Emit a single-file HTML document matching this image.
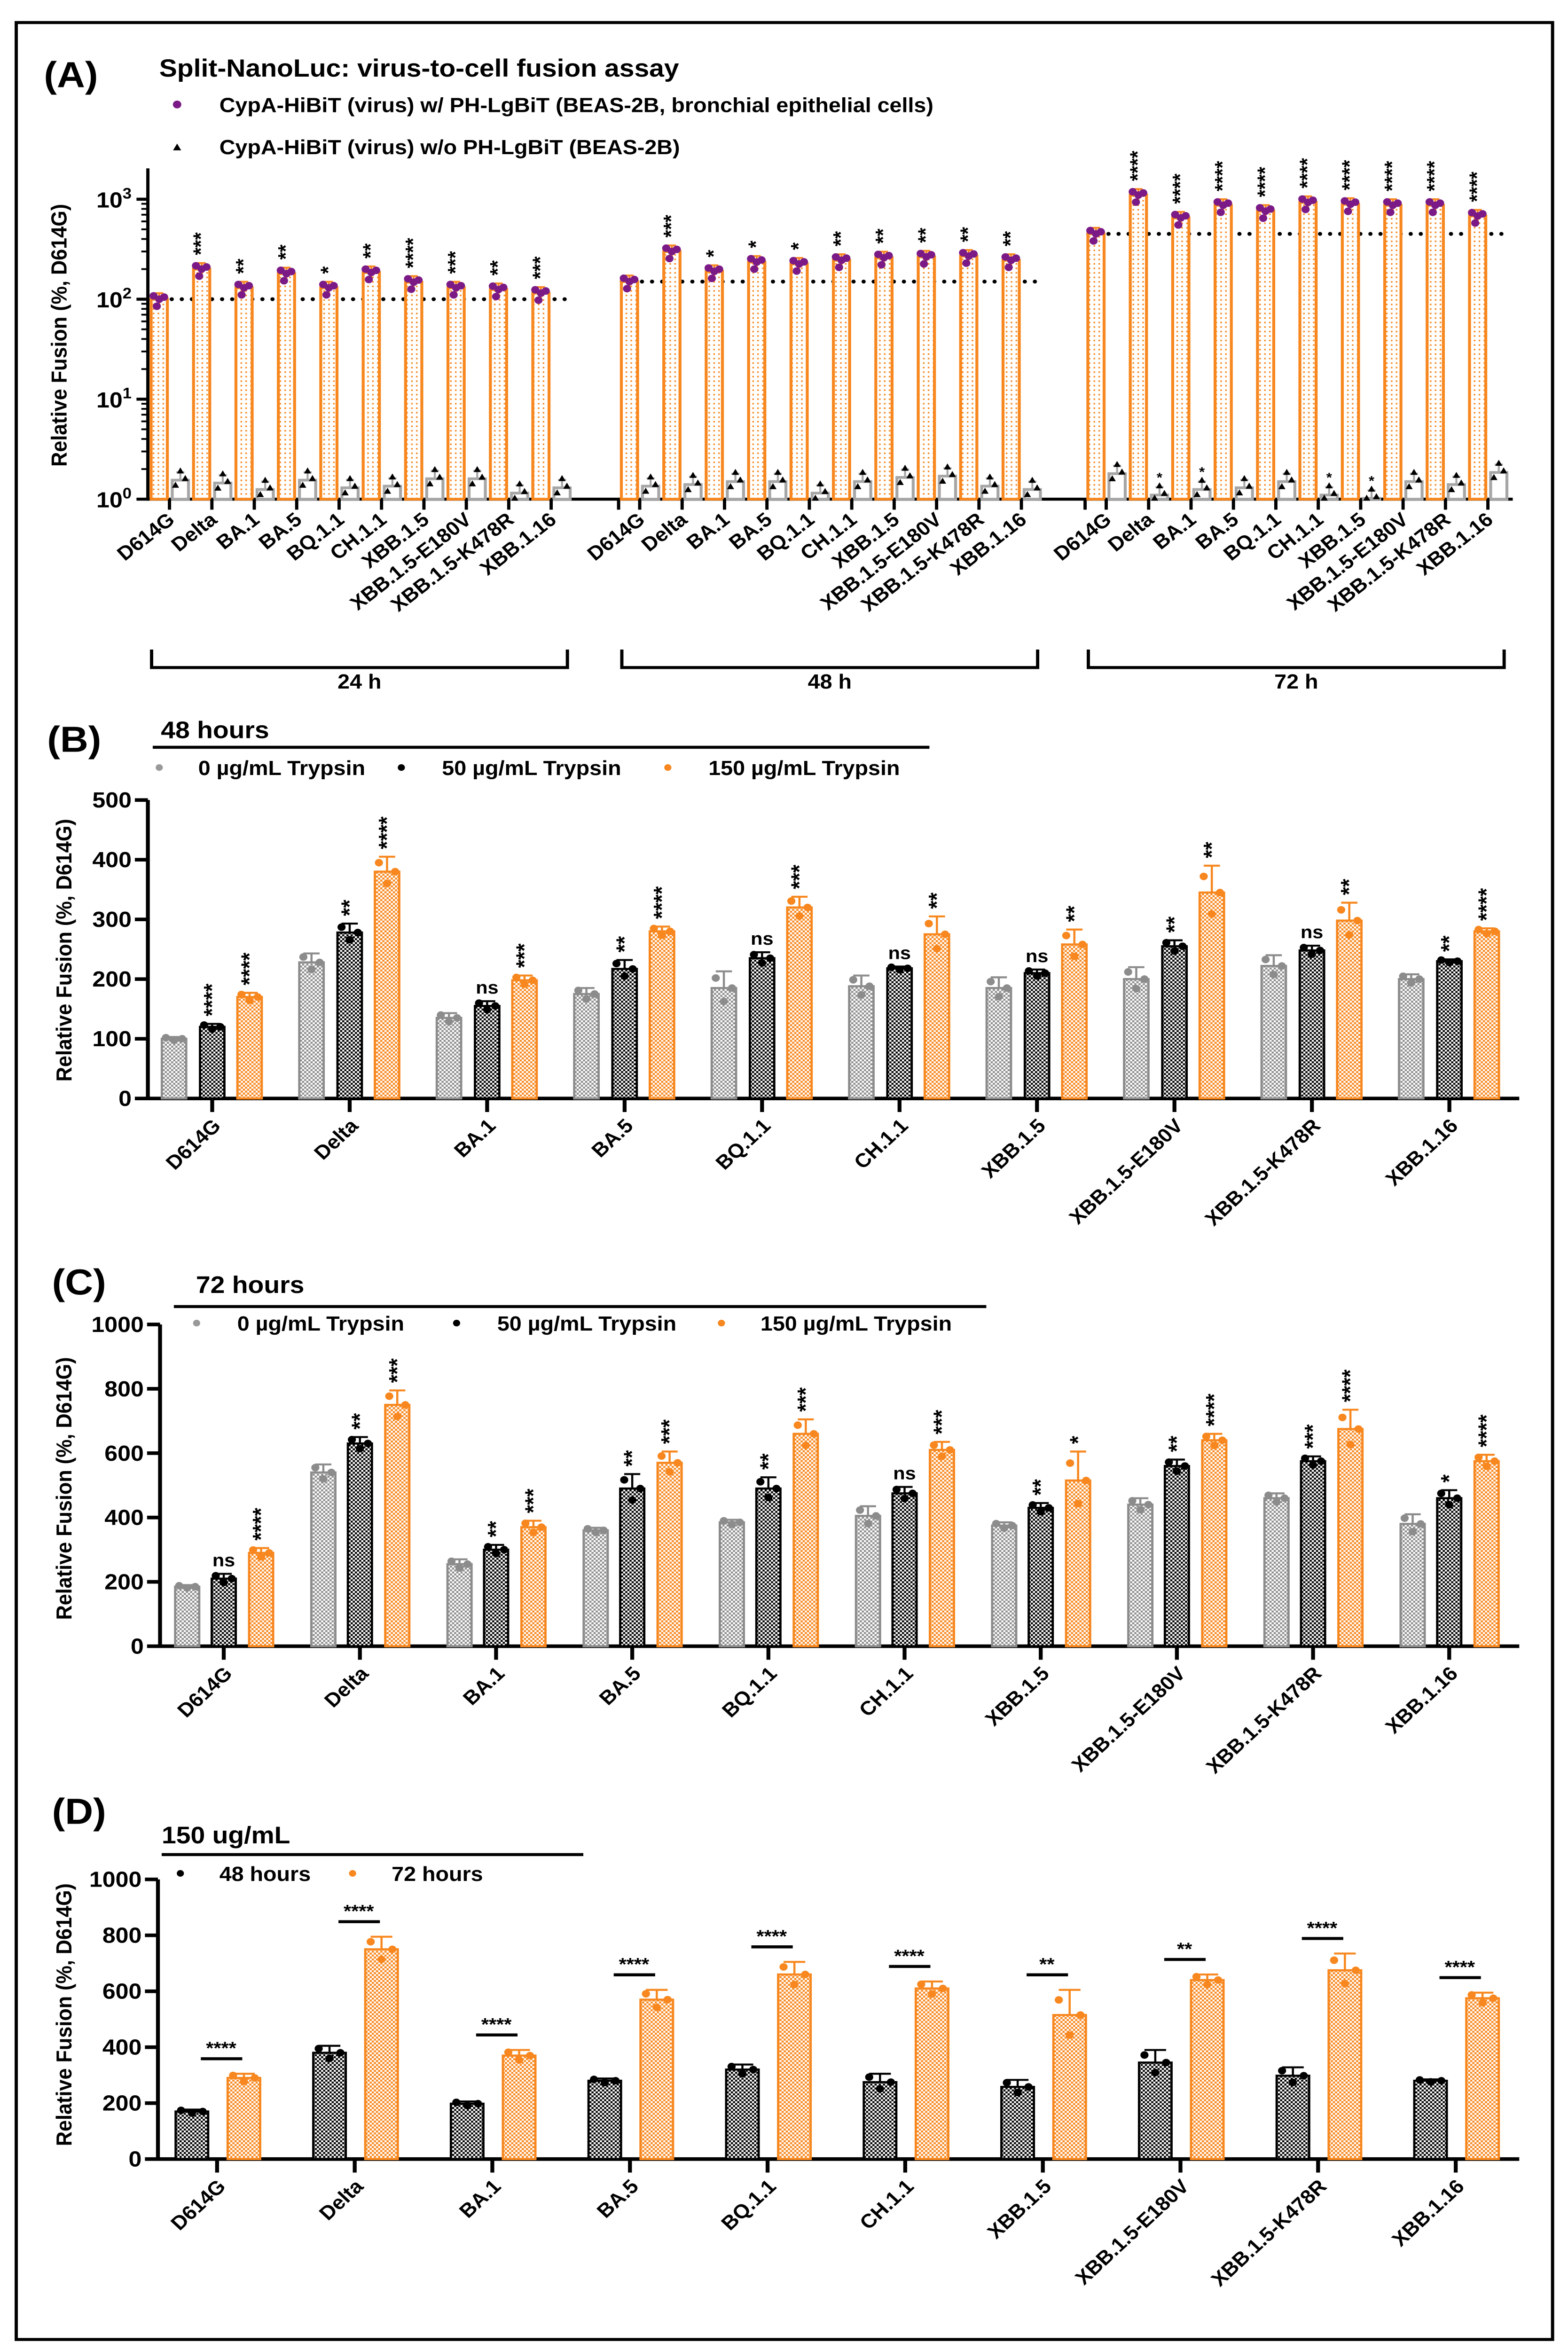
<!DOCTYPE html>
<html><head><meta charset="utf-8">
<style>
html,body{margin:0;padding:0;background:#fff;width:100%;height:100%;overflow:hidden;}
svg{display:block;position:absolute;left:0;top:0;width:100vw;height:100vh;}
text{font-family:"Liberation Sans",Arial,sans-serif;font-weight:bold;fill:#000;}
</style></head>
<body>
<svg id="fig" xmlns="http://www.w3.org/2000/svg" width="100%" height="100%" viewBox="0 0 965 1563" preserveAspectRatio="none">
<defs>
<pattern id="chkGrey" width="2.6" height="2.6" patternUnits="userSpaceOnUse"><rect width="2.6" height="2.6" fill="#fff"/><rect width="1.3" height="1.3" fill="#8c8c8c"/><rect x="1.3" y="1.3" width="1.3" height="1.3" fill="#8c8c8c"/></pattern>
<pattern id="chkBlack" width="2.6" height="2.6" patternUnits="userSpaceOnUse"><rect width="2.6" height="2.6" fill="#fff"/><rect width="1.3" height="1.3" fill="#000"/><rect x="1.3" y="1.3" width="1.3" height="1.3" fill="#000"/></pattern>
<pattern id="chkOrange" width="2.6" height="2.6" patternUnits="userSpaceOnUse"><rect width="2.6" height="2.6" fill="#fff"/><rect width="1.3" height="1.3" fill="#f7871e"/><rect x="1.3" y="1.3" width="1.3" height="1.3" fill="#f7871e"/></pattern>
<pattern id="dotOrange" width="3" height="3" patternUnits="userSpaceOnUse"><rect width="3" height="3" fill="#fff"/><rect x="1" y="1" width="1" height="1" fill="#f7871e"/></pattern>
</defs>
<rect x="10" y="15" width="945.5" height="1541" fill="none" stroke="#000" stroke-width="2"/>
<g id="root"></g>
</svg>
<script>
// ---------- Panel A data (log scale) ----------
const aCats = ["D614G","Delta","BA.1","BA.5","BQ.1.1","CH.1.1","XBB.1.5","XBB.1.5-E180V","XBB.1.5-K478R","XBB.1.16"];
const aGroups = ["24 h","48 h","72 h"];
const aWith24 = [100,200,130,180,130,185,148,130,125,115];
const aWith48 = [150,300,190,235,225,245,260,265,270,245];
const aWith72 = [450,1100,650,870,760,930,890,870,870,680];
const aWo24 = [1.55,1.45,1.25,1.55,1.3,1.35,1.6,1.6,1.15,1.3];
const aWo48 = [1.35,1.4,1.5,1.5,1.15,1.5,1.65,1.7,1.35,1.25];
const aWo72 = [1.8,1.1,1.25,1.3,1.5,1.1,1.02,1.5,1.4,1.85];
const aSig24 = ["","***","**","**","*","**","****","***","**","***"];
const aSig48 = ["","***","*","*","*","**","**","**","**","**"];
const aSig72 = ["","****","****","****","****","****","****","****","****","****"];
const aWoSig72 = ["","*","*","","","*","*","","",""];
const aTickExps = [0,1,2,3];

// ---------- Panel B data ----------
const bcCats = ["D614G","Delta","BA.1","BA.5","BQ.1.1","CH.1.1","XBB.1.5","XBB.1.5-E180V","XBB.1.5-K478R","XBB.1.16"];
const bGrey = [100,228,135,175,185,188,185,200,222,200];
const bBlack = [120,278,155,217,235,218,210,255,248,230];
const bOrange = [170,380,198,280,320,275,258,345,298,280];
const bGreyErr = [3,15,8,10,28,18,18,20,18,8];
const bBlackErr = [5,15,8,15,10,3,6,10,8,3];
const bOrangeErr = [7,25,8,8,18,30,25,45,30,5];
const bSigBlack = ["****","**","ns","**","ns","ns","ns","**","ns","**"];
const bSigOrange = ["****","****","***","****","***","**","**","**","**","****"];
const bTicks = [0,100,200,300,400,500];

// ---------- Panel C data ----------
const cGrey = [185,540,255,360,385,405,375,440,460,380];
const cBlack = [210,630,300,490,490,475,430,560,575,460];
const cOrange = [290,750,370,570,660,610,515,640,675,575];
const cGreyErr = [5,25,15,8,8,30,10,20,15,30];
const cBlackErr = [15,20,15,45,35,20,15,20,15,25];
const cOrangeErr = [15,45,20,35,45,25,90,20,60,20];
const cSigBlack = ["ns","**","**","**","**","ns","**","**","***","*"];
const cSigOrange = ["****","***","***","***","***","***","*","****","****","****"];
const cTicks = [0,200,400,600,800,1000];

// ---------- Panel D data ----------
const d48 = [170,380,198,280,320,275,258,345,298,280];
const d72 = [290,750,370,570,660,610,515,640,675,575];
const d48Err = [7,25,8,8,18,30,25,45,30,5];
const d72Err = [15,45,20,35,45,25,90,20,60,20];
const dSig = ["****","****","****","****","****","****","**","**","****","****"];
const dTicks = [0,200,400,600,800,1000];

const NS = "http://www.w3.org/2000/svg";
const root = document.getElementById("root");
function mk(tag, attrs, parent){
  const e = document.createElementNS(NS, tag);
  for (const k in attrs) e.setAttribute(k, attrs[k]);
  (parent || root).appendChild(e);
  return e;
}
function txt(s, attrs, parent){ const e = mk("text", attrs, parent); e.textContent = s; return e; }

// ================= PANEL A =================
(function(){
  const g = mk("g", {});
  
  
  const axX = 91, yTop = 112, y0 = 332, dec = 66.5;
  const ay = v => y0 - Math.log10(v) * dec;
  const groupStart = [104.3, 393.7, 680.8], step = 26.1;
  const tickX = (gi, i) => groupStart[gi] + i * step;

  let t = txt("(A)", {x:27, y:58, "font-size":24}, g);
  
  
  t = txt("Split-NanoLuc: virus-to-cell fusion assay", {x:98, y:51, "font-size":16.5}, g);
  
  
  let c = mk("circle", {cx:109, cy:69.5, r:2.6, fill:"#7b1a86"}, g);
  
  
  t = txt("CypA-HiBiT (virus) w/ PH-LgBiT (BEAS-2B, bronchial epithelial cells)", {x:135, y:74.5, "font-size":13.5}, g);
  
  
  let p = mk("path", {d:"M106.5,100 l2.5,-4.5 l2.5,4.5 z", fill:"#000"}, g);
  
  
  t = txt("CypA-HiBiT (virus) w/o PH-LgBiT (BEAS-2B)", {x:135, y:102.5, "font-size":13.5}, g);
  
  

  let l = mk("line", {x1:axX, y1:yTop, x2:axX, y2:y0+1, stroke:"#000", "stroke-width":2}, g);
  
  
  aTickExps.forEach(e => {
    const y = ay(Math.pow(10, e));
    const tk = mk("line", {x1:axX-7, y1:y, x2:axX, y2:y, stroke:"#000", "stroke-width":2}, g);
    
    
    const lab = txt("10", {x:axX-10, y:y+5.5, "font-size":14.5, "text-anchor":"end"}, g);
    
    
    const sup = mk("tspan", {dy:-6, "font-size":10}, lab);
    sup.textContent = String(e);
    if (e < 3) for (let m = 2; m <= 9; m++) {
      const ym = ay(m * Math.pow(10, e));
      const mt = mk("line", {x1:axX-4, y1:ym, x2:axX, y2:ym, stroke:"#000", "stroke-width":1.2}, g);
      
      
    }
  });
  t = txt("Relative Fusion (%, D614G)", {x:0, y:0, "font-size":13.5, "text-anchor":"middle", transform:"translate(41,223) rotate(-90)"}, g);
  
  

  l = mk("line", {x1:axX, y1:y0, x2:931, y2:y0, stroke:"#000", "stroke-width":2}, g);
  
  

  const withs = [aWith24, aWith48, aWith72];
  const wos = [aWo24, aWo48, aWo72];
  const sigs = [aSig24, aSig48, aSig72];
  for (let gi = 0; gi < 3; gi++) {
    const ry = ay(withs[gi][0]);
    const x1 = groupStart[gi] - 11, x2 = tickX(gi, 9) + 14;
    const dl = mk("line", {x1:x1, y1:ry, x2:x2, y2:ry, stroke:"#000", "stroke-width":2.6, "stroke-dasharray":"0 6.2", "stroke-linecap":"round"}, g);
    
    
    if (gi > 0) {
      const bt = mk("line", {x1:groupStart[gi]-13, y1:y0, x2:groupStart[gi]-13, y2:y0+7, stroke:"#000", "stroke-width":2}, g);
      
      
    }
    for (let i = 0; i < 10; i++) {
      const tx = tickX(gi, i);
      const v = withs[gi][i], w = wos[gi][i];
      const ob = mk("rect", {x:tx-11.3, y:ay(v), width:10, height:y0-ay(v), fill:"url(#dotOrange)", stroke:"#f7871e", "stroke-width":1.8}, g);
      
      
      const eb = mk("path", {d:`M${tx-6.3},${ay(v*1.15)} V${ay(v/1.15)} M${tx-8.8},${ay(v*1.15)} H${tx-3.8}`, stroke:"#f7871e", "stroke-width":1.2, fill:"none"}, g);
      
      
      [[-3.5,1.08],[0,1.0],[3,1.05],[-1.5,0.85]].forEach(([dx, f]) => {
        const pt = mk("circle", {cx:tx-6.3+dx, cy:ay(v*f), r:2.5, fill:"#7b1a86"}, g);
        
        
      });
      const gb = mk("rect", {x:tx+1.7, y:ay(w), width:10, height:y0-ay(w), fill:"#fff", stroke:"#a6a6a6", "stroke-width":1.8}, g);
      
      
      const gw = mk("path", {d:`M${tx+6.7},${ay(w*1.2)} V${ay(w)} M${tx+4.2},${ay(w*1.2)} H${tx+9.2}`, stroke:"#a6a6a6", "stroke-width":1.2, fill:"none"}, g);
      
      
      [[-3,0.9],[3,1.05],[0,1.25]].forEach(([dx, f]) => {
        const py = Math.min(ay(w*f), y0-1);
        const tr = mk("path", {d:`M${tx+6.7+dx-2.2},${py+2} l2.2,-4 l2.2,4 z`, fill:"#000"}, g);
        
        
      });
      if (sigs[gi][i]) {
        const st = txt(sigs[gi][i], {x:0, y:0, "font-size":13, "font-weight":"normal", transform:`translate(${tx-2.5},${ay(v*1.2)-4}) rotate(-90)`}, g);
        
        
      }
      if (gi === 2 && aWoSig72[i]) {
        const st2 = txt(aWoSig72[i], {x:tx+6.7, y:ay(w*1.3)-1, "font-size":9, "font-weight":"normal", "text-anchor":"middle"}, g);
        
        
      }
      const tk = mk("line", {x1:tx, y1:y0, x2:tx, y2:y0+7, stroke:"#000", "stroke-width":2}, g);
      
      
      const cl = txt(aCats[i], {x:0, y:0, "font-size":13, "text-anchor":"end", transform:`translate(${tx+4},${y0+15}) rotate(-40)`}, g);
      
      
    }
    const bx1 = groupStart[gi] - 11, bx2 = tickX(gi, 9) + 10;
    const br = mk("path", {d:`M${bx1},432 V444 H${bx2} V432`, stroke:"#000", "stroke-width":2, fill:"none"}, g);
    
    
    const gl = txt(aGroups[gi], {x:(bx1+bx2)/2, y:458, "font-size":13.5, "text-anchor":"middle"}, g);
    
    
  }
})();

// ================= Linear grouped panels =================
function linPanel(cfg){
  const g = mk("g", {});
  
  
  const sy = v => cfg.y0 - v * cfg.ppu;
  let t = txt(cfg.letter, {x:cfg.letterX, y:cfg.letterY, "font-size":24}, g);
  
  
  t = txt(cfg.title, {x:cfg.titleX, y:cfg.titleY, "font-size":16}, g);
  
  
  let l = mk("line", {x1:cfg.ulX1, y1:cfg.ulY, x2:cfg.ulX2, y2:cfg.ulY, stroke:"#000", "stroke-width":2}, g);
  
  
  cfg.legend.forEach(le => {
    const d = mk("circle", {cx:le.dx, cy:cfg.legY, r:2.2, fill:le.color}, g);
    
    
    const lt = txt(le.label, {x:le.tx, y:cfg.legY+5, "font-size":13.5}, g);
    
    
  });
  l = mk("line", {x1:cfg.axX, y1:sy(cfg.ticks[cfg.ticks.length-1]), x2:cfg.axX, y2:cfg.y0+1, stroke:"#000", "stroke-width":2.4}, g);
  
  
  l = mk("line", {x1:cfg.axX, y1:cfg.y0, x2:935, y2:cfg.y0, stroke:"#000", "stroke-width":2.4}, g);
  
  
  cfg.ticks.forEach(v => {
    const tk = mk("line", {x1:cfg.axX-8, y1:sy(v), x2:cfg.axX, y2:sy(v), stroke:"#000", "stroke-width":2.4}, g);
    
    
    const tl = txt(String(v), {x:cfg.axX-10, y:sy(v)+5, "font-size":14.5, "text-anchor":"end"}, g);
    
    
  });
  t = txt("Relative Fusion (%, D614G)", {x:0, y:0, "font-size":13.5, "text-anchor":"middle", transform:`translate(${cfg.ylabX},${cfg.ylabY}) rotate(-90)`}, g);
  
  

  bcCats.forEach((cat, i) => {
    const tx = cfg.tick0 + i * cfg.step;
    let topMax = 0;
    cfg.series.forEach(s => {
      const v = s.vals[i], e = s.errs[i], cx = tx + s.off, w = cfg.barW;
      const b = mk("rect", {x:cx-w/2, y:sy(v), width:w, height:cfg.y0-sy(v), fill:s.fill, stroke:s.color, "stroke-width":1.4}, g);
      
      
      const eb = mk("path", {d:`M${cx},${sy(v+e)} V${sy(v)} M${cx-w/3},${sy(v+e)} H${cx+w/3}`, stroke:s.color, "stroke-width":1.3, fill:"none"}, g);
      
      
      [[-w/3, v+e*0.6],[0, v-e*0.8],[w/3, v]].forEach(([dx, pv]) => {
        const pt = mk("circle", {cx:cx+dx, cy:sy(pv), r:2.5, fill:s.color}, g);
        
        
      });
      if (s.sig) {
        const sg = s.sig[i];
        const yb = sy(v + e) - 5;
        let st;
        if (sg === "ns") st = txt("ns", {x:cx, y:yb, "font-size":12, "font-weight":"normal", "text-anchor":"middle"}, g);
        else st = txt(sg, {x:0, y:0, "font-size":14, "font-weight":"normal", transform:`translate(${cx+4.5},${yb}) rotate(-90)`}, g);
        
        
      }
      topMax = Math.max(topMax, v + e);
    });
    if (cfg.pairSig) {
      const ly = sy(topMax) - 10;
      const pl = mk("line", {x1:tx-10, y1:ly, x2:tx+15.5, y2:ly, stroke:"#000", "stroke-width":2}, g);
      
      
      const ps = txt(cfg.pairSig[i], {x:tx+2.5, y:ly-3, "font-size":12, "text-anchor":"middle"}, g);
      
      
    }
    const tk = mk("line", {x1:tx, y1:cfg.y0, x2:tx, y2:cfg.y0+9, stroke:"#000", "stroke-width":2.4}, g);
    
    
    const cl = txt(cat, {x:0, y:0, "font-size":13, "text-anchor":"end", transform:`translate(${tx+6},${cfg.y0+19}) rotate(-45)`}, g);
    
    
  });
}

linPanel({name:"panel-b", letter:"(B)", letterX:29, letterY:500, title:"48 hours", titleX:99, titleY:491,
  ulX1:94, ulX2:572, ulY:497, legY:510.5,
  legend:[{dx:98,tx:122,color:"#999",label:"0 µg/mL Trypsin"},{dx:247,tx:272,color:"#000",label:"50 µg/mL Trypsin"},{dx:411,tx:436,color:"#f7871e",label:"150 µg/mL Trypsin"}],
  axX:91, y0:730.6, ppu:0.397, ticks:bTicks, ylabX:44, ylabY:632,
  tick0:130.6, step:84.6, barW:15,
  series:[
    {vals:bGrey, errs:bGreyErr, off:-23.5, fill:"url(#chkGrey)", color:"#8c8c8c", barName:"bar-0-trypsin"},
    {vals:bBlack, errs:bBlackErr, off:0, fill:"url(#chkBlack)", color:"#000", barName:"bar-50-trypsin", sig:bSigBlack},
    {vals:bOrange, errs:bOrangeErr, off:23, fill:"url(#chkOrange)", color:"#f7871e", barName:"bar-150-trypsin", sig:bSigOrange}
  ]});

linPanel({name:"panel-c", letter:"(C)", letterX:32, letterY:861, title:"72 hours", titleX:120.6, titleY:860,
  ulX1:107, ulX2:607, ulY:869, legY:880,
  legend:[{dx:121,tx:146,color:"#999",label:"0 µg/mL Trypsin"},{dx:281,tx:306,color:"#000",label:"50 µg/mL Trypsin"},{dx:444,tx:468,color:"#f7871e",label:"150 µg/mL Trypsin"}],
  axX:98.5, y0:1094.9, ppu:0.214, ticks:cTicks, ylabX:44, ylabY:990,
  tick0:137.7, step:83.8, barW:14.8,
  series:[
    {vals:cGrey, errs:cGreyErr, off:-22.5, fill:"url(#chkGrey)", color:"#8c8c8c", barName:"bar-0-trypsin"},
    {vals:cBlack, errs:cBlackErr, off:0, fill:"url(#chkBlack)", color:"#000", barName:"bar-50-trypsin", sig:cSigBlack},
    {vals:cOrange, errs:cOrangeErr, off:23, fill:"url(#chkOrange)", color:"#f7871e", barName:"bar-150-trypsin", sig:cSigOrange}
  ]});

linPanel({name:"panel-d", letter:"(D)", letterX:32, letterY:1213, title:"150 ug/mL", titleX:99.5, titleY:1226,
  ulX1:99.5, ulX2:359, ulY:1233.5, legY:1246,
  legend:[{dx:111,tx:135,color:"#000",label:"48 hours"},{dx:217,tx:241,color:"#f7871e",label:"72 hours"}],
  axX:97.2, y0:1436, ppu:0.186, ticks:dTicks, ylabX:44, ylabY:1340,
  tick0:133.6, step:84.7, barW:20,
  pairSig:dSig,
  series:[
    {vals:d48, errs:d48Err, off:-15.5, fill:"url(#chkBlack)", color:"#000", barName:"bar-48-hours"},
    {vals:d72, errs:d72Err, off:16.5, fill:"url(#chkOrange)", color:"#f7871e", barName:"bar-72-hours"}
  ]});
</script>
</body></html>
